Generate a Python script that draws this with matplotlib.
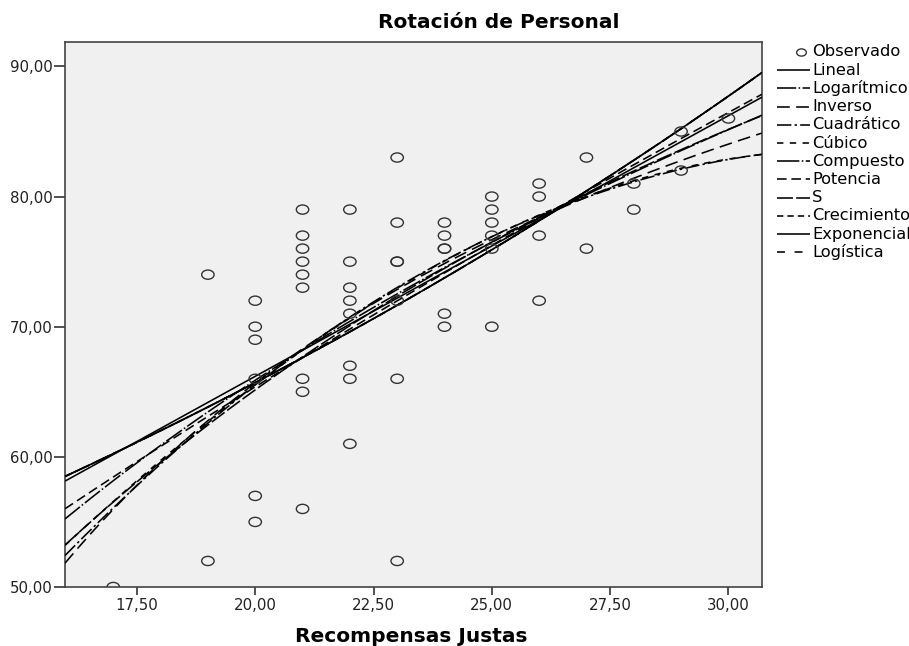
import numpy as np
import matplotlib
matplotlib.use("Agg")
import matplotlib.pyplot as plt
from matplotlib.path import Path
from matplotlib.lines import Line2D

plt.rcParams['font.family'] = ['DejaVu Sans']

# Observed data (Recompensas Justas, Rotación de Personal)
x_obs = [17,
         19, 19,
         20, 20, 20, 20, 20, 20,
         21, 21, 21, 21, 21, 21, 21, 21, 21,
         22, 22, 22, 22, 22, 22, 22, 22,
         23, 23, 23, 23, 23, 23, 23,
         24, 24, 24, 24, 24, 24,
         25, 25, 25, 25, 25, 25,
         26, 26, 26, 26,
         27, 27,
         28, 28,
         29, 29,
         30]
y_obs = [50,
         74, 52,
         72, 70, 69, 66, 57, 55,
         79, 77, 76, 75, 74, 73, 66, 65, 56,
         79, 75, 73, 72, 71, 67, 66, 61,
         83, 78, 75, 75, 72, 66, 52,
         78, 77, 76, 76, 71, 70,
         80, 79, 78, 77, 76, 70,
         81, 80, 77, 72,
         83, 76,
         81, 79,
         85, 82,
         86]

legend_labels = ['Observado', 'Lineal', 'Logarítmico', 'Inverso', 'Cuadrático', 'Cúbico',
                 'Compuesto', 'Potencia', 'S', 'Crecimiento', 'Exponencial', 'Logística']
x_ticks = [17.5, 20.0, 22.5, 25.0, 27.5, 30.0]
y_ticks = [50, 60, 70, 80, 90]

x = np.array(x_obs, float)
y = np.array(y_obs, float)
XMIN, XMAX = 15.98, 30.71
xs = np.linspace(XMIN, XMAX, 300)

def lin(u, v):
    b1, b0 = np.polyfit(u, v, 1)
    return b0, b1

curves = {}
b0, b1 = lin(x, y); curves['Lineal'] = b0 + b1 * xs
b0, b1 = lin(np.log(x), y); curves['Logarítmico'] = b0 + b1 * np.log(xs)
b0, b1 = lin(1 / x, y); curves['Inverso'] = b0 + b1 / xs
curves['Cuadrático'] = np.polyval(np.polyfit(x, y, 2), xs)
# cubic model as estimated with the x^2 term removed (tolerance)
A = np.column_stack([np.ones_like(x), x, x ** 3])
c = np.linalg.lstsq(A, y, rcond=None)[0]
curves['Cúbico'] = c[0] + c[1] * xs + c[2] * xs ** 3
b0, b1 = lin(x, np.log(y)); comp = np.exp(b0 + b1 * xs)
curves['Compuesto'] = comp
b0, b1 = lin(np.log(x), np.log(y)); curves['Potencia'] = np.exp(b0) * xs ** b1
b0, b1 = lin(1 / x, np.log(y)); curves['S'] = np.exp(b0 + b1 / xs)
curves['Crecimiento'] = comp
curves['Exponencial'] = comp
curves['Logística'] = comp

styles = {
    'Lineal': (0, ()),
    'Logarítmico': (0, (12, 1.5, 1, 1.5)),
    'Inverso': (0, (8, 4)),
    'Cuadrático': (0, (9, 2, 1.5, 2)),
    'Cúbico': (0, (4, 4)),
    'Compuesto': (0, (14, 1.5, 1, 1.5)),
    'Potencia': (0, (6, 3)),
    'S': (0, (10, 2)),
    'Crecimiento': (0, (4, 2.5)),
    'Exponencial': (0, ()),
    'Logística': (0, (5, 6)),
}

W, H = 909, 646
fig = plt.figure(figsize=(W / 100, H / 100), dpi=100)
ax = fig.add_axes([65 / W, 1 - 587 / H, (762 - 65) / W, (587 - 41.7) / H])
ax.set_facecolor('#f0f0f0')

LW = 1.15
for name in legend_labels[1:]:
    ax.plot(xs, curves[name], color='black', lw=LW, linestyle=styles[name], zorder=3)

circ = Path.unit_circle()
ell = Path(circ.vertices * np.array([1.0, 0.74]), circ.codes)
ax.scatter(x, y, s=80, marker=ell, facecolors='none', edgecolors='#333333', linewidths=1.0, zorder=4)

ax.set_xlim(XMIN, XMAX)
ax.set_ylim(50, 91.9)
ax.set_xticks(x_ticks)
ax.set_yticks(y_ticks)
ax.set_xticklabels([f"{t:.2f}".replace('.', ',') for t in x_ticks], fontsize=10.8, color='#222222')
ax.set_yticklabels([f"{t:.2f}".replace('.', ',') for t in y_ticks], fontsize=10.8, color='#222222')
ax.tick_params(axis='x', direction='out', length=6, width=1.2, color='#333333', pad=2)
ax.tick_params(axis='y', direction='out', length=8, width=1.2, color='#333333', pad=1)
for sp in ax.spines.values():
    sp.set_color('#444444')
    sp.set_linewidth(1.2)

fig.text(378 / W, 1 - 23 / H, 'Rotación de Personal', ha='left', va='center',
         fontsize=14.5, fontweight='bold')
fig.text(411 / W, 1 - 636 / H, 'Recompensas Justas', ha='center', va='center',
         fontsize=14.5, fontweight='bold')

# legend drawn row by row
row0, dy = 52, 18.2
for i, name in enumerate(legend_labels):
    yy = 1 - (row0 + i * dy) / H
    if i == 0:
        fig.add_artist(Line2D([801 / W], [yy], marker=ell, markersize=7, markerfacecolor='none',
                              markeredgecolor='#333333', markeredgewidth=1.0, linestyle='none',
                              transform=fig.transFigure))
    else:
        fig.add_artist(Line2D([777 / W, 810 / W], [yy, yy], color='black', lw=LW,
                              linestyle=styles[name], transform=fig.transFigure))
    fig.text(812 / W, yy, name, ha='left', va='center', fontsize=11.7)

fig.savefig('out.png', dpi=100)
